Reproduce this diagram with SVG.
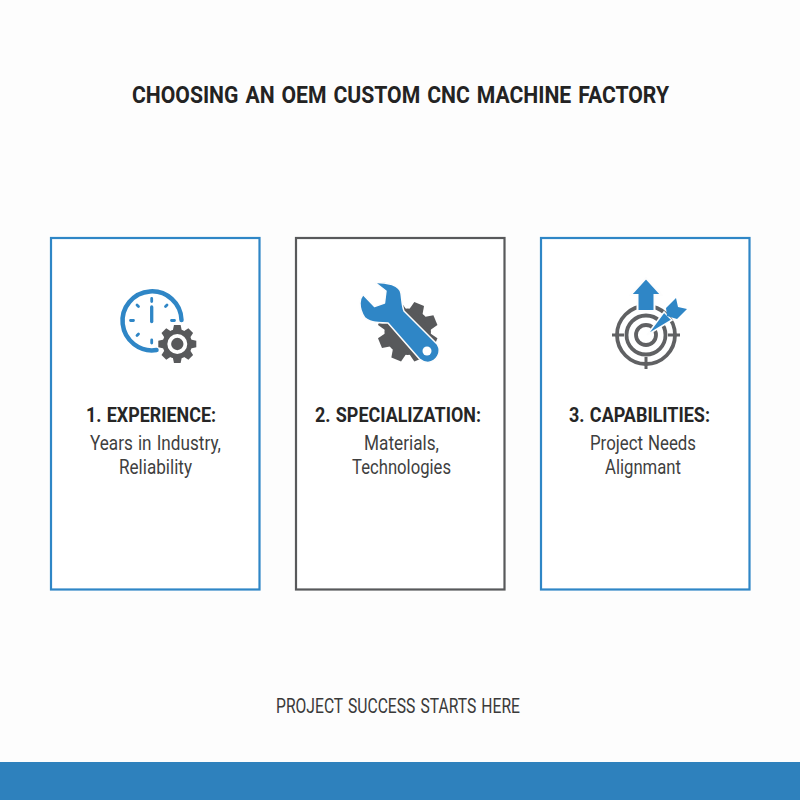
<svg xmlns="http://www.w3.org/2000/svg" width="800" height="800" viewBox="0 0 800 800">
<style>
text{font-family:Roboto,"Liberation Sans",sans-serif;text-anchor:middle;fill:#2b2b2b}
.title{font-size:24.500px;font-weight:700;fill:#232323;word-spacing:2px}
.head{font-size:20.500px;font-weight:700;fill:#262626;word-spacing:1px}
.body{font-size:20px;fill:#3f3f3f;word-spacing:1px}
.foot{font-size:20px;fill:#3a3a3a;word-spacing:1.500px}
.card{fill:#fff;stroke-width:2.200}
.blue{fill:#2f86c6}
.gray{fill:#58595b}
</style>
<defs>
<g id="gear" class="gray"><circle r="15.500"/>
<g id="t4"><path id="t" d="M13-5L20-3.500V3.500L13 5Z"/><use href="#t" transform="rotate(45)"/><use href="#t" transform="rotate(90)"/><use href="#t" transform="rotate(135)"/></g>
<use href="#t4" transform="rotate(180)"/></g>
</defs>
<rect width="800" height="800" fill="#fdfdfd"/>
<text class="title" x="400.500" y="103" textLength="537" lengthAdjust="spacingAndGlyphs">CHOOSING AN OEM CUSTOM CNC MACHINE FACTORY</text>
<g id="card1">
<rect class="card" x="51" y="238" width="208.500" height="351.500" stroke="#2f86c6"/>
<path d="M156.500 350A29.500 29.500 0 1 1 181.500 320" fill="none" stroke="#2f86c6" stroke-width="4.500" stroke-linecap="round"/>
<g stroke="#2f86c6" stroke-width="2.800" stroke-linecap="round" fill="none">
<path d="M151.700 298.500v3M151.700 340v3M130.500 320.500h3M171.500 320.500h3M137 305l1.500 1.500M167 305l-1.500 1.500M137 335.500l1.500-1.500"/>
<path d="M151.700 307v14.500" stroke-width="3.300"/>
</g>
<g transform="translate(177.300 344) scale(.95)">
<use href="#gear"/>
<circle r="8.500" fill="none" stroke="#fff" stroke-width="4"/>
</g>
<text class="head" x="151" y="422" textLength="130" lengthAdjust="spacingAndGlyphs">1. EXPERIENCE:</text>
<text class="body" x="155.500" y="450" textLength="131" lengthAdjust="spacingAndGlyphs">Years in Industry,</text>
<text class="body" x="155.500" y="474" textLength="73" lengthAdjust="spacingAndGlyphs">Reliability</text>
</g>
<g id="card2">
<rect class="card" x="296" y="238" width="208.500" height="351.500" stroke="#58595b"/>
<use href="#gear" transform="translate(407.700 331.700) rotate(22.500) scale(1.500)"/>
<path d="M375 282.500C381 282 386 283 392 284.500C398 287 401 290 401 293.500C402 300 402 306 404 311L437.500 344.500C442 352 437 361 428 362.500C425 362.500 422 361 419.500 359L388 323C385 323 382 323 378 322.500C372 322 367 320 364.500 317.500C361 312 360 308 360 303.300C360 300 361 297 363 294.500L374.500 306.500L384.500 303L386 291Z" stroke="#fdfdfd" stroke-width="1.500" class="blue" stroke-linejoin="round"/>
<circle cx="427" cy="351" r="4.500" fill="#fff"/>
<text class="head" x="398" y="422" textLength="166" lengthAdjust="spacingAndGlyphs">2. SPECIALIZATION:</text>
<text class="body" x="401.500" y="450" textLength="75" lengthAdjust="spacingAndGlyphs">Materials,</text>
<text class="body" x="401.500" y="474" textLength="99" lengthAdjust="spacingAndGlyphs">Technologies</text>
</g>
<g id="card3">
<rect class="card" x="541" y="238" width="208.500" height="351.500" stroke="#2f86c6"/>
<g fill="none" stroke="#606163" stroke-width="3.800">
<circle cx="646" cy="335" r="29"/>
<circle cx="646" cy="335" r="19.500"/>
<circle cx="646" cy="335" r="10"/>
<path d="M612 335h12M668 335h12M646 357v12" stroke-width="3"/>
</g>
<path d="M646 278L661.500 295H654.500V311H637.500V295H630.500Z" class="blue" stroke="#fdfdfd" stroke-width="2"/>
<path d="M647 335L664 312L672 320Z" class="blue" stroke="#fdfdfd" stroke-width="1.500"/>
<path d="M666 308L676 298L678 307L687 309L677 319L667 316Z" class="blue"/>
<text class="head" x="639.500" y="422" textLength="141" lengthAdjust="spacingAndGlyphs">3. CAPABILITIES:</text>
<text class="body" x="643" y="450" textLength="106" lengthAdjust="spacingAndGlyphs">Project Needs</text>
<text class="body" x="643" y="474" textLength="76" lengthAdjust="spacingAndGlyphs">Alignmant</text>
</g>
<text class="foot" x="398" y="713" textLength="244" lengthAdjust="spacingAndGlyphs">PROJECT SUCCESS STARTS HERE</text>
<rect id="bar" x="0" y="762" width="800" height="38" fill="#2e81bd"/>
</svg>
